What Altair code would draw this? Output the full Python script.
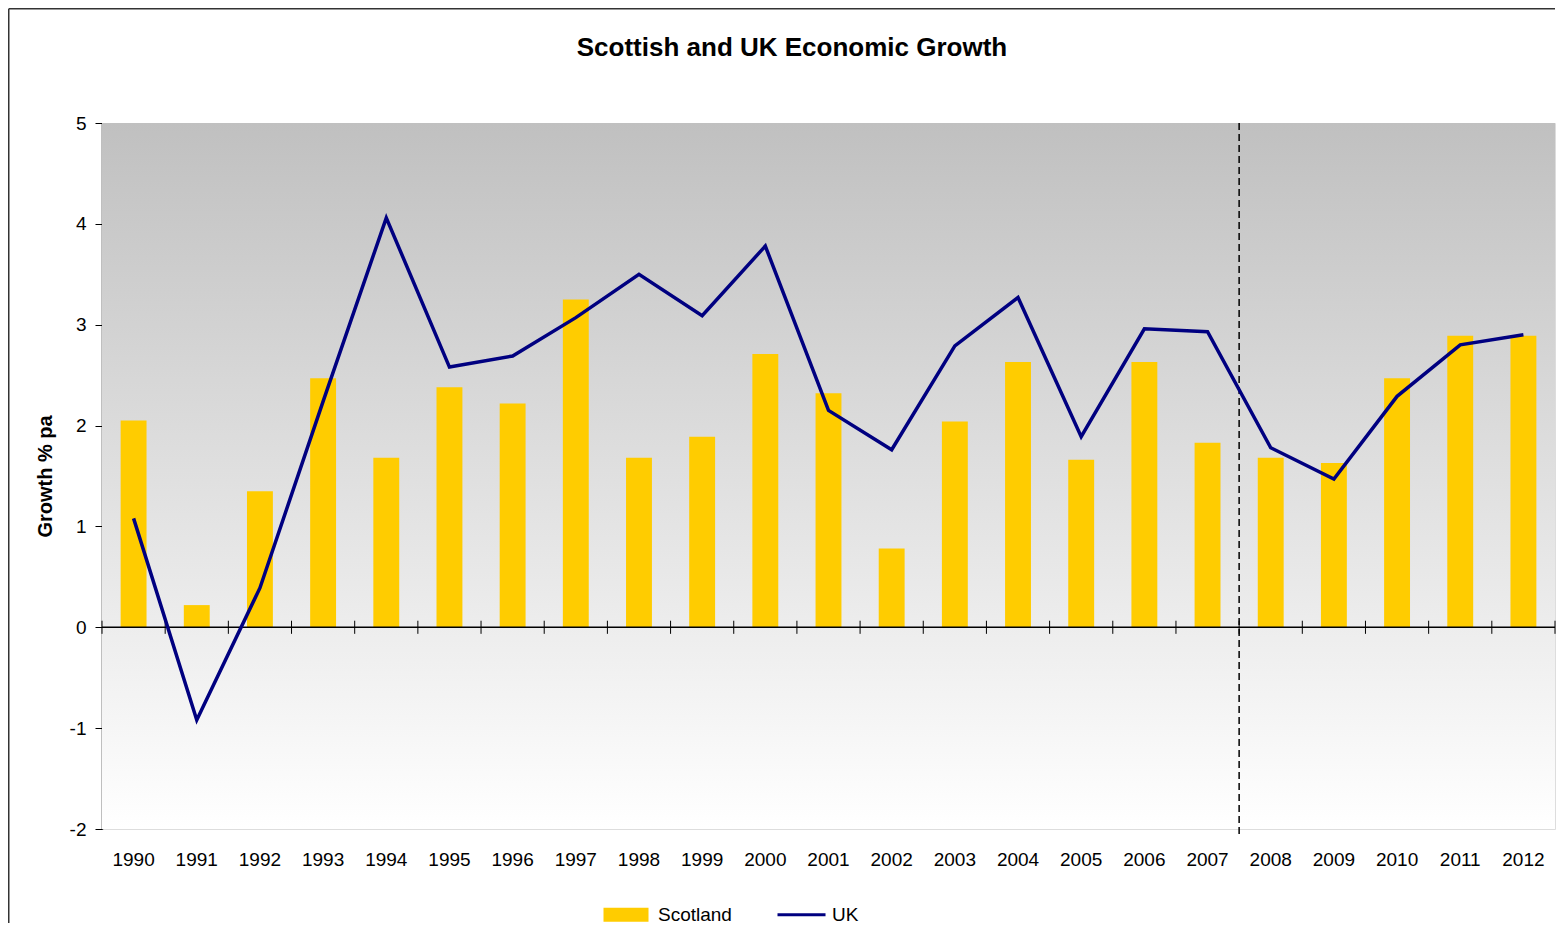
import altair as alt
import pandas as pd

years = [str(y) for y in range(1990, 2013)]
scotland = [2.05, 0.22, 1.35, 2.47, 1.68, 2.38, 2.22, 3.25, 1.68, 1.89, 2.71, 2.32,
            0.78, 2.04, 2.63, 1.66, 2.63, 1.83, 1.68, 1.63, 2.47, 2.89, 2.89]
uk = [1.08, -0.92, 0.39, 2.24, 4.06, 2.58, 2.69, 3.07, 3.50, 3.09, 3.78, 2.15,
      1.76, 2.79, 3.27, 1.89, 2.96, 2.93, 1.78, 1.47, 2.29, 2.80, 2.90]
series_names = ["Scotland", "UK"]
series_colors = ["#FFCC00", "#000080"]
y_ticks = [-2, -1, 0, 1, 2, 3, 4, 5]
break_year = "2008"
title_text = "Scottish and UK Economic Growth"

W, H = 1453, 706
FONT = "Liberation Sans"

df = pd.DataFrame({"year": years, "Scotland": scotland, "UK": uk})
one = pd.DataFrame({"a": [0]})

xscale = alt.Scale(domain=years, paddingInner=0, paddingOuter=0)
yscale = alt.Scale(domain=[-2, 5], nice=False)

x_enc = alt.X("year:O", scale=xscale,
              axis=alt.Axis(title=None, labelAngle=0, domain=False, ticks=False, tickSize=0,
                            labelPadding=21, labelFontSize=19, labelFont=FONT,
                            labelColor="#000000"))

gradient = alt.LinearGradient(
    gradient="linear",
    stops=[alt.GradientStop(color="#c0c0c0", offset=0),
           alt.GradientStop(color="#ffffff", offset=1)],
    x1=0, x2=0, y1=0, y2=1)

bg = alt.Chart(one).mark_rect(fill=gradient).encode(
    x=alt.value(0), x2=alt.value(W),
    y=alt.datum(5, scale=yscale), y2=alt.datum(-2))

bars = alt.Chart(df).mark_bar(color=series_colors[0], width=alt.RelativeBandSize(0.41)).encode(
    x=x_enc,
    y=alt.Y("Scotland:Q", scale=yscale,
            axis=alt.Axis(title="Growth % pa", values=y_ticks, labelExpr="datum.value + ''",
                          grid=False,
                          domainColor="#000000", domainWidth=1.5,
                          tickColor="#000000", tickSize=7, tickWidth=1,
                          labelFontSize=19, labelFont=FONT, labelColor="#000000",
                          labelPadding=9, titleFontSize=20, titleFont=FONT,
                          titleFontWeight="bold", titleColor="#000000",
                          titlePadding=14)),
)

zero = alt.Chart(one).mark_rule(color="#000000", strokeWidth=1.5).encode(
    y=alt.datum(0))

ticks = alt.Chart(df).mark_rule(color="#000000", strokeWidth=1).encode(
    x=alt.X("year:O", bandPosition=0),
    y=alt.datum(-0.065), y2=alt.datum(0.065))

ticks_end = alt.Chart(pd.DataFrame({"year": [years[-1]]})).mark_rule(
    color="#000000", strokeWidth=1).encode(
    x=alt.X("year:O", bandPosition=1),
    y=alt.datum(-0.065), y2=alt.datum(0.065))

divider = alt.Chart(pd.DataFrame({"year": [break_year]})).mark_rule(
    color="#000000", strokeWidth=1.5, strokeDash=[7, 4]).encode(
    x=alt.X("year:O", bandPosition=0),
    y=alt.datum(5), y2=alt.datum(-2.07))

line = alt.Chart(df).mark_line(color=series_colors[1], strokeWidth=3.5).encode(
    x=alt.X("year:O"),
    y=alt.Y("UK:Q"))

rect_path = "M-1,-1H5.43V1H-1Z"
line_path = "M-1,-0.21H5.86V0.21H-1Z"
leg = alt.Legend(title=None, orient="none", legendX=499, legendY=782,
                 direction="horizontal", symbolSize=196, symbolStrokeWidth=0,
                 symbolOpacity=1, labelOffset=38, columnPadding=43,
                 labelFontSize=19, labelFont=FONT, labelColor="#000000", padding=0)
legend_layer = alt.Chart(pd.DataFrame({"series": series_names})).mark_point(
    filled=True, opacity=0).encode(
    color=alt.Color("series:N", scale=alt.Scale(domain=series_names, range=series_colors),
                    legend=leg),
    shape=alt.Shape("series:N", scale=alt.Scale(domain=series_names,
                                                range=[rect_path, line_path]),
                    legend=leg))

title = alt.Chart(pd.DataFrame({"t": [title_text]})).mark_text(
    fontSize=26, font=FONT, fontWeight="bold", color="#000000",
    align="center", baseline="middle").encode(
    text="t:N", x=alt.value(690), y=alt.value(-75))

frame_left = alt.Chart(one).mark_rule(color="#333333", strokeWidth=1.5).encode(
    x=alt.value(-93.25), y=alt.value(-114.25), y2=alt.value(H + 94))
frame_top = alt.Chart(one).mark_rule(color="#333333", strokeWidth=1.5).encode(
    x=alt.value(-93.25), x2=alt.value(W), y=alt.value(-114.25))

chart = alt.layer(bg, bars, zero, ticks, ticks_end, divider, line, legend_layer,
                  title, frame_left, frame_top).properties(
    width=W, height=H,
    padding=0,
).configure_view(stroke="#888888", strokeWidth=1.5).configure(background="#ffffff")

chart.save("out.html", embed_options={"renderer": "svg", "actions": False})
